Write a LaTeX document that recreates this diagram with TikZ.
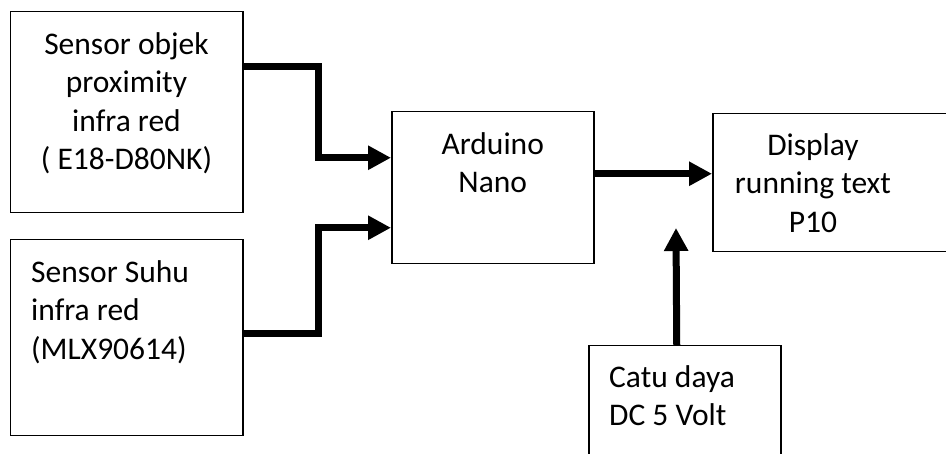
\documentclass[tikz,border=0pt]{standalone}
\usepackage{fontspec}
\setmainfont{Carlito}
\usepackage{tikz}
\usetikzlibrary{positioning,arrows.meta}

\begin{document}
\begin{tikzpicture}[x=1pt, y=-1pt,
    every node/.style={font=\fontsize{31.5}{38.5}\selectfont},
    box/.style={draw, line width=1.5pt, anchor=north west, inner sep=0pt},
    txt/.style={inner sep=0pt, align=center},
    ltxt/.style={inner sep=0pt, align=left},
    arrow/.style={-{Triangle[length=23pt, width=23pt]}, line width=7pt},
]
\clip (0,0) rectangle (946,454);

% Sensor blocks
\node[box, minimum width=232.5pt, minimum height=201pt] (sensobj) at (9.5,11) {};
\node[txt, below=21pt of sensobj.north] (sensobjtxt) {Sensor objek\\proximity\\infra red\\( E18-D80NK)};
\node[box, minimum width=232.5pt, minimum height=196pt] (sensuhu) at (9.5,239) {};
\node[ltxt, below right=21pt and 21.5pt of sensuhu.north west] (sensuhutxt) {Sensor Suhu\\infra red\\(MLX90614)};

% Controller and display
\node[box, minimum width=202pt, minimum height=152pt] (arduino) at (391,111) {};
\node[txt, below=21pt of arduino.north] (arduinotxt) {Arduino\\Nano};
\node[box, minimum width=260pt, minimum height=138pt] (display) at (712,113) {};
\node[txt, anchor=north] (displaytxt) at (813,133) {Display\\running text\\P10};

% Power supply
\node[box, minimum width=192pt, minimum height=150pt] (catu) at (588,345) {};
\node[ltxt, below right=20pt and 21pt of catu.north west] (catutxt) {Catu daya\\DC 5 Volt};

% Arrows
\coordinate (outobj) at ([yshift=-56pt]sensobj.north east);
\coordinate (outsuhu) at ([yshift=4pt]sensuhu.east);
\coordinate (outard) at ([yshift=14pt]arduino.east);
\coordinate (outcatu) at ([xshift=-8pt]catu.north);
\coordinate (pwrin) at (676,228);
\draw[arrow] (outobj) -- ++(75,0) |- ([yshift=30pt]arduino.west);
\draw[arrow] (outsuhu) -- ++(75,0) |- ([yshift=-40pt]arduino.west);
\draw[arrow] (outard) -- (outard -| display.west);
\draw[arrow] (outcatu) -- (pwrin);

\end{tikzpicture}
\end{document}
